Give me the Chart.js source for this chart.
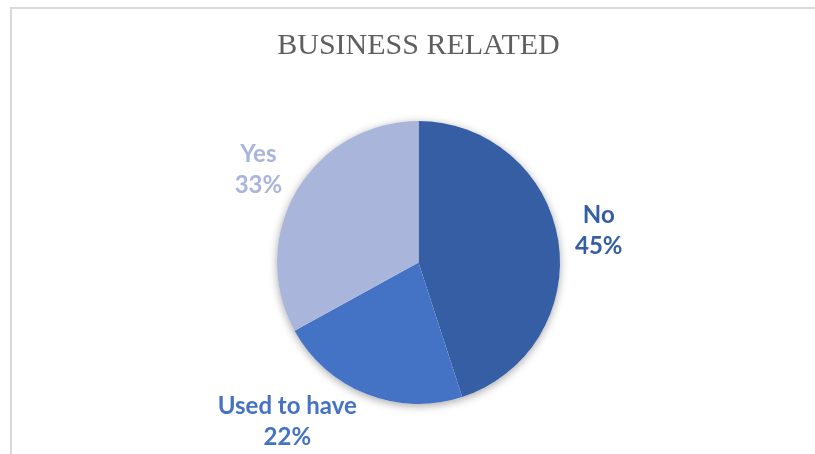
<!DOCTYPE html>
<html>
<head>
<meta charset="utf-8">
<script src="https://cdn.jsdelivr.net/npm/chart.js@4"></script>
<style>
  html, body { margin: 0; padding: 0; background: #fff; }
  #wrap { position: relative; width: 815px; height: 454px; }
  #frame {
    position: absolute; left: 10px; top: 7px; right: 0; bottom: 0;
    border-top: 2px solid #d9d9d9; border-left: 2px solid #d9d9d9;
  }
  #chart { position: absolute; left: 0; top: 0; }
</style>
</head>
<body>
<div id="wrap">
  <div id="frame"></div>
  <canvas id="chart" width="815" height="454"></canvas>
</div>
<script>
  // Pie data
  const categories = ['No', 'Used to have', 'Yes'];
  const shares = [45, 22, 33];
  const sliceColors = ['#355ea5', '#4472c4', '#a9b5da'];
  const chartTitle = 'BUSINESS RELATED';

  // soft drop shadow behind the whole pie
  const pieShadow = {
    id: 'pieShadow',
    beforeDatasetsDraw(chart) {
      const arc = chart.getDatasetMeta(0).data[0];
      if (!arc) return;
      const ctx = chart.ctx;
      ctx.save();
      ctx.shadowColor = 'rgba(0,0,0,0.35)';
      ctx.shadowBlur = 9;
      ctx.shadowOffsetY = 2;
      ctx.fillStyle = '#ffffff';
      ctx.beginPath();
      ctx.arc(arc.x, arc.y, arc.outerRadius, 0, Math.PI * 2);
      ctx.fill();
      ctx.restore();
    }
  };

  // title in a light serif face
  const serifTitle = {
    id: 'serifTitle',
    afterDraw(chart, args, opts) {
      const ctx = chart.ctx;
      ctx.save();
      ctx.font = '30px "Liberation Serif", "DejaVu Serif", serif';
      ctx.fillStyle = '#5f5f5f';
      ctx.textAlign = 'center';
      ctx.textBaseline = 'alphabetic';
      ctx.fillText(opts.text, opts.x, opts.y);
      ctx.restore();
    }
  };

  // category name and percent outside each slice
  const outsideLabels = {
    id: 'outsideLabels',
    afterDatasetsDraw(chart, args, opts) {
      const ctx = chart.ctx;
      const meta = chart.getDatasetMeta(0);
      const total = shares.reduce((a, b) => a + b, 0);
      ctx.save();
      ctx.font = 'bold 24px Lato, "Open Sans", sans-serif';
      ctx.textAlign = 'center';
      ctx.textBaseline = 'middle';
      meta.data.forEach((arc, i) => {
        const mid = (arc.startAngle + arc.endAngle) / 2;
        const r = arc.outerRadius * opts.distance;
        const nudge = opts.nudge[i] || [0, 0];
        const x = arc.x + Math.cos(mid) * r + nudge[0];
        const y = arc.y + Math.sin(mid) * r + nudge[1];
        const pct = Math.round(shares[i] / total * 100) + '%';
        ctx.fillStyle = sliceColors[i];
        ctx.fillText(categories[i], x, y - opts.lineGap / 2);
        ctx.fillText(pct, x, y + opts.lineGap / 2);
      });
      ctx.restore();
    }
  };

  new Chart(document.getElementById('chart'), {
    type: 'pie',
    data: {
      labels: categories,
      datasets: [{
        data: shares,
        backgroundColor: sliceColors,
        borderWidth: 0
      }]
    },
    options: {
      responsive: false,
      animation: false,
      layout: { padding: { top: 121, bottom: 50, left: 22, right: 0 } },
      plugins: {
        legend: { display: false },
        tooltip: { enabled: false },
        serifTitle: { text: chartTitle, x: 418.5, y: 54 },
        outsideLabels: {
          distance: 1.29,
          lineGap: 31,
          nudge: [[0, -3], [-64, -10], [-3, 0]]
        }
      }
    },
    plugins: [pieShadow, outsideLabels, serifTitle]
  });
</script>
</body>
</html>
